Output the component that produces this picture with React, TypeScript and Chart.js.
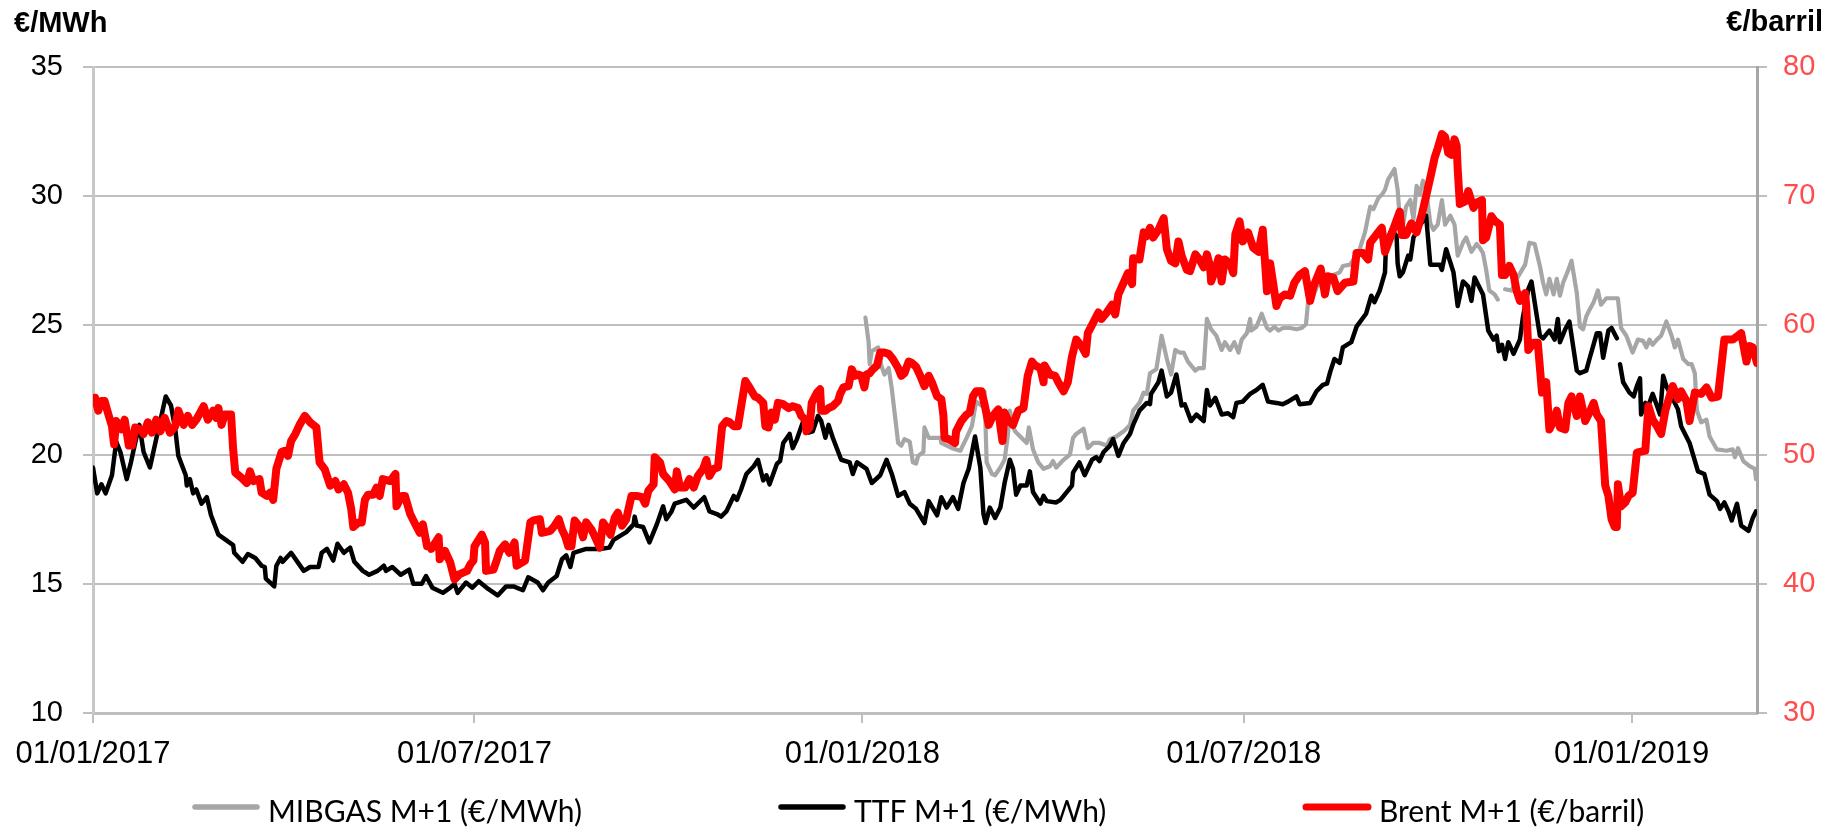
import React, { useEffect, useRef } from "react";
import { Chart, registerables } from "chart.js";

Chart.register(...registerables);

// x values are days since 01/01/2017
const tickDays = [0, 181, 365, 546, 730];
const tickLabels = ["01/01/2017", "01/07/2017", "01/01/2018", "01/07/2018", "01/01/2019"];
const xMaxDay = 789.5;

const seriesNames = ["MIBGAS M+1 (€/MWh)", "TTF M+1 (€/MWh)", "Brent M+1 (€/barril)"];
const leftAxisTitle = "€/MWh";
const rightAxisTitle = "€/barril";

// [day, €/MWh]
const mibgasSeries: [number, number | null][] = [
  [366.5, 25.3], [368, 24.35], [368.5, 23.5], [369.5, 24.0], [372.5, 24.15], [374, 23.45], [375.5, 23.1],
  [377.5, 23.35], [379, 22.55], [380.5, 21.5], [382, 20.45], [383.5, 20.35], [385, 20.6], [387.5, 20.5],
  [389, 19.7], [390.5, 19.65], [391.5, 19.95], [394, 20.1], [394.5, 21.05], [396.5, 20.65], [402, 20.65],
  [402.5, 20.45], [407.5, 20.25], [411.5, 20.15], [414.5, 20.65], [417, 21.1], [419, 22.05], [421.5, 21.9],
  [423, 22.45], [424, 19.7], [426.5, 19.25], [428, 19.2], [430.5, 19.5], [432.5, 19.8], [434, 20.7],
  [435, 21.7], [436.5, 21.1], [437.5, 20.9], [440.5, 20.65], [443, 20.45], [444, 21.05], [446, 20.2],
  [448.5, 19.7], [451, 19.45], [454, 19.55], [455.5, 19.75], [457, 19.5], [460.5, 19.8], [463.5, 20.0],
  [465, 20.65], [466.5, 20.8], [470, 21.0], [472, 20.25], [474.5, 20.45], [477.5, 20.45], [481, 20.35],
  [482.5, 20.6], [485.5, 20.7], [489, 20.9], [492, 21.15], [493.5, 21.7], [496.5, 22.0], [498.5, 22.4],
  [500, 22.35], [501.5, 23.15], [504.5, 23.3], [507, 24.6], [509.5, 23.7], [511.5, 23.1], [513.5, 24.05],
  [515.5, 23.95], [517.5, 23.95], [519.5, 23.6], [523, 23.25], [524.5, 23.35], [527, 23.35], [528.5, 25.25],
  [530.5, 24.85], [533, 24.6], [535.5, 24.05], [537, 24.35], [539.5, 24.05], [541.5, 24.35], [543.5, 23.95],
  [545, 24.45], [547.5, 24.7], [549, 25.25], [549.5, 24.8], [552, 24.95], [554.5, 25.45], [557, 24.9],
  [558.5, 24.8], [560.5, 24.95], [562.5, 24.8], [564.5, 24.9], [568, 24.9], [571, 24.85], [573.5, 24.9],
  [575.5, 25.05], [576.5, 25.9], [579, 26.15], [581.5, 26.65], [584, 26.4], [585.5, 26.8], [588.5, 26.95],
  [591.5, 27.05], [593, 27.3], [596.5, 27.35], [598, 27.55], [601, 27.95], [603.5, 28.6], [606, 29.6],
  [607.5, 29.5], [610, 29.95], [611.5, 30.05], [613, 30.25], [614.5, 30.65], [617.5, 31.05], [619, 30.25],
  [620, 29.15], [621.5, 28.85], [623, 29.6], [625, 29.85], [626.5, 29.1], [628, 30.4], [629.5, 30.05],
  [631, 30.6], [632.5, 30.25], [634.5, 28.95], [636, 28.7], [638, 28.9], [640, 29.85], [641.5, 28.9],
  [644, 29.25], [646, 28.9], [647.5, 27.7], [650, 28.2], [651.5, 28.4], [654, 27.85], [656.5, 28.15],
  [658, 28.0], [659.5, 27.8], [661, 27.15], [662.5, 26.35], [665, 26.2], [666.5, 26.0], [668, null],
  [670, 26.4], [673, 26.35], [675.5, 26.8], [678, 27.15], [679.5, 27.35], [681.5, 28.2], [684, 28.15],
  [686.5, 27.3], [688, 26.65], [689.5, 26.2], [691, 26.8], [693, 26.2], [694.5, 26.8], [696, 26.15],
  [697.5, 26.65], [700, 27.15], [701.5, 27.5], [704, 26.25], [705.5, 24.95], [707, 24.85], [708.5, 25.35],
  [710, 25.6], [712, 25.9], [714, 26.35], [715.5, 25.8], [718, 26.05], [723.5, 26.05], [725, 24.9],
  [727.5, 24.6], [730.5, 23.95], [733, 24.45], [735.5, 24.4], [737, 24.15], [738.5, 24.45], [740, 24.25],
  [742, 24.45], [744, 24.6], [746.5, 25.15], [749, 24.6], [750.5, 24.15], [752, 24.45], [754.5, 23.7],
  [757, 23.5], [758.5, 23.5], [760, 23.15], [761, 21.7], [763, 21.25], [765.5, 21.35], [767, 20.7],
  [770.5, 20.2], [775, 20.15], [778, 20.2], [779, 19.9], [780.5, 20.25], [783, 19.75], [786, 19.55],
  [788.5, 19.45], [789, 19.05],
];

// [day, €/MWh]
const ttfSeries: [number, number | null][] = [
  [0, 19.5], [2, 18.5], [4, 18.85], [6, 18.5], [9, 19.2], [11, 20.5], [13, 20.1], [16, 19.05], [18, 19.7],
  [20, 20.45], [22, 21.15], [24, 20.1], [27, 19.5], [30, 20.6], [33, 21.7], [34.5, 22.25], [37, 21.9],
  [39, 21.0], [40.5, 19.95], [44, 19.2], [44.5, 18.8], [46, 19.05], [47.5, 18.5], [49, 18.65], [51.5, 18.1],
  [54, 18.35], [56, 17.65], [59.5, 16.9], [63, 16.7], [66.5, 16.5], [67, 16.2], [71, 15.85], [73.5, 16.15],
  [77, 16.0], [80, 15.7], [81.5, 15.65], [82, 15.2], [86, 14.9], [87, 15.7], [89, 16.0], [90, 15.85],
  [94, 16.2], [97, 15.85], [100, 15.5], [103, 15.65], [107, 15.65], [108.5, 16.2], [111, 16.35], [114, 15.9],
  [116, 16.55], [119, 16.2], [122, 16.4], [124, 15.85], [128, 15.5], [131, 15.35], [135, 15.5], [138, 15.7],
  [139, 15.5], [142, 15.65], [146, 15.35], [150, 15.55], [152, 15.0], [156, 15.0], [158, 15.3], [161, 14.85],
  [166, 14.65], [169.5, 14.85], [171.5, 15.0], [173, 14.65], [177, 15.05], [180, 14.85], [183, 15.1],
  [187.5, 14.8], [192, 14.55], [196, 14.9], [199.5, 14.9], [204, 14.75], [206.5, 15.25], [211, 15.05],
  [213.5, 14.75], [216, 15.05], [220, 15.3], [222.5, 15.95], [224.5, 16.1], [226.5, 15.65], [228, 16.2],
  [234, 16.35], [240.5, 16.35], [245, 16.4], [247, 16.7], [253, 17.0], [256.5, 17.3], [257, 17.6],
  [258, 17.25], [261, 17.2], [264, 16.6], [267.5, 17.3], [270.5, 18.0], [272, 17.5], [274.5, 17.8],
  [276, 18.1], [281.5, 18.25], [285, 17.95], [290, 18.35], [292.5, 17.8], [296, 17.7], [298, 17.6],
  [300.5, 17.8], [304, 18.4], [305.5, 18.25], [307.5, 18.65], [310, 19.25], [313.5, 19.55], [315.5, 19.8],
  [318, 19.0], [319.5, 19.2], [321, 18.85], [324.5, 19.65], [326, 19.75], [327.5, 20.45], [330.5, 20.8],
  [332, 20.25], [334, 20.6], [337, 21.3], [339.5, 20.85], [341.5, 20.9], [344, 21.5], [345.5, 21.3],
  [347.5, 20.65], [349, 21.15], [351, 20.65], [355, 19.8], [359, 19.7], [360.5, 19.25], [362.5, 19.7],
  [367, 19.45], [369.5, 18.9], [373.5, 19.2], [376.5, 19.8], [379, 19.25], [382, 18.4], [385, 18.55],
  [387.5, 18.1], [390.5, 17.9], [394.5, 17.35], [396.5, 18.2], [400.5, 17.65], [402.5, 18.35], [405, 17.95],
  [408, 18.35], [410.5, 17.9], [413, 18.9], [415.5, 19.45], [418.5, 20.7], [421, 19.5], [422.5, 17.7],
  [423.5, 17.35], [425.5, 17.95], [428, 17.55], [430.5, 17.95], [432.5, 18.9], [435, 19.8], [436.5, 19.45],
  [438, 18.45], [440, 18.8], [443, 18.8], [444.5, 19.35], [446, 18.55], [449.5, 18.1], [451, 18.4],
  [452.5, 18.2], [457, 18.15], [459, 18.25], [462, 18.55], [464.5, 18.8], [465, 19.3], [468, 19.7],
  [470.5, 19.2], [474, 19.8], [476, 19.9], [477.5, 19.75], [479.5, 20.1], [482.5, 20.35], [484, 20.6],
  [486.5, 19.95], [489, 20.45], [492, 20.8], [493.5, 21.15], [496.5, 21.7], [500, 22.0], [501.5, 21.95],
  [502, 22.35], [505.5, 22.8], [507, 23.25], [509.5, 22.25], [511.5, 22.4], [514, 23.1], [516.5, 21.9],
  [518, 21.95], [521, 21.3], [523.5, 21.55], [527, 21.3], [528.5, 22.5], [530, 21.9], [532.5, 22.2],
  [535.5, 21.55], [538.5, 21.6], [541, 21.45], [542.5, 22.0], [545.5, 22.05], [549, 22.35], [552, 22.5],
  [555, 22.7], [557.5, 22.05], [561.5, 22.0], [564.5, 21.95], [567, 22.05], [571, 22.25], [572.5, 21.95],
  [577.5, 22.0], [580.5, 22.45], [583.5, 22.7], [585.5, 22.75], [587, 23.2], [589, 23.7], [591.5, 23.55],
  [593, 24.15], [597, 24.35], [599.5, 24.95], [604, 25.45], [606.5, 26.15], [608, 25.9], [610.5, 26.35],
  [613, 27.05], [613.5, 28.2], [616, 28.7], [618.5, 28.45], [619, 27.4], [620, 26.9], [621.5, 27.05],
  [624, 27.7], [625, 27.55], [626.5, 28.4], [629.5, 28.85], [632.5, 29.25], [634.5, 27.35], [639, 27.35],
  [640, 27.15], [642, 27.95], [645.5, 27.05], [647.5, 25.75], [650, 26.7], [652.5, 26.5], [654, 25.95],
  [655.5, 26.85], [659.5, 26.2], [662, 24.8], [664.5, 24.45], [666, 24.6], [667, 24.0], [668.5, 24.25],
  [670, 23.7], [671.5, 24.35], [674, 23.9], [677, 24.45], [678.5, 25.35], [681, 26.4], [682.5, 26.7],
  [684, 25.9], [686.5, 24.6], [688, 24.5], [691, 24.8], [693.5, 24.45], [695, 25.25], [696, 24.35],
  [698.5, 24.85], [700.5, 25.15], [704, 23.25], [705.5, 23.15], [708.5, 23.25], [710, 23.7], [713.5, 24.7],
  [715, 24.7], [716.5, 23.75], [719, 24.8], [720.5, 24.9], [723, 24.5], [723.5, null], [724.5, 23.5],
  [726, 22.8], [729, 22.4], [731, 22.25], [732.5, 22.65], [734, 22.95], [734.5, 21.55], [736.5, 22.0],
  [738, 21.9], [740, 22.35], [742, 21.9], [743.5, 21.55], [745, 23.05], [746.5, 22.65], [749, 22.25],
  [752, 21.75], [753.5, 21.1], [757.5, 20.45], [761.5, 19.35], [764.5, 19.25], [767, 18.45], [770.5, 18.2],
  [772, 17.9], [774, 18.15], [776, 17.8], [777.5, 17.45], [780, 18.1], [782, 17.25], [785.5, 17.05],
  [787.5, 17.55], [789, 17.8],
];

// [day, €/barril]
const brentSeries: [number, number | null][] = [
  [1, 54.4], [2.5, 53.4], [4, 54.15], [5.5, 54.15], [7.5, 53.0], [9, 52.2], [10, 50.8], [11, 52.6],
  [13.5, 51.95], [15, 52.7], [17, 50.7], [18.5, 50.7], [20, 52.1], [22.5, 51.95], [24, 51.6], [26, 52.5],
  [28, 51.7], [30, 52.7], [32, 51.8], [34, 52.85], [36.5, 51.7], [39, 52.2], [40.5, 53.4], [43, 52.3],
  [45, 53.0], [47, 52.3], [49, 52.7], [52.5, 53.75], [54.5, 52.7], [57, 53.4], [58.5, 52.85], [59.5, 53.6],
  [61, 52.3], [62.5, 53.1], [65.5, 53.1], [66.5, 50.4], [67.5, 48.6], [70.5, 48.2], [73, 47.8], [74.5, 48.7],
  [76, 47.95], [79, 48.1], [80, 47.05], [82.5, 46.8], [84, 47.05], [85.5, 46.5], [87, 48.9], [89.5, 50.2],
  [91, 50.3], [92.5, 49.9], [94, 51.05], [96, 51.6], [98, 52.3], [100.5, 53.0], [103, 52.5], [106, 52.1],
  [107.5, 49.4], [110, 48.85], [112.5, 47.6], [115, 47.95], [116.5, 47.3], [119, 47.7], [121, 47.05],
  [122.5, 45.8], [123.5, 44.4], [126, 44.75], [127.5, 44.75], [129, 46.5], [130.5, 46.9], [133, 46.9],
  [134.5, 47.45], [136, 46.8], [137.5, 48.1], [141, 47.95], [143.5, 48.5], [144, 46.0], [146.5, 46.8],
  [148, 46.8], [150.5, 45.4], [152.5, 44.75], [155, 43.95], [156.5, 44.6], [158.5, 42.9], [160, 42.9],
  [160.5, 42.7], [164, 43.6], [164.5, 41.9], [167, 42.55], [169.5, 41.65], [171.5, 40.35], [174, 40.75],
  [177.5, 41.0], [179, 41.5], [180.5, 41.8], [181, 42.9], [184.5, 43.8], [186, 43.2], [186.5, 41.0],
  [190, 41.1], [191.5, 41.8], [193, 42.55], [195.5, 43.05], [197.5, 42.4], [200, 43.2], [201, 41.4],
  [205, 41.8], [207.5, 44.75], [209, 44.9], [212, 45.0], [213, 43.95], [217, 44.1], [219, 44.5], [221, 45.0],
  [222.5, 44.2], [224, 43.7], [225.5, 42.9], [227, 42.9], [228.5, 44.9], [231, 44.4], [232.5, 43.6],
  [234, 44.75], [236.5, 44.2], [238, 43.7], [240.5, 42.8], [242, 44.75], [243.5, 44.4], [245.5, 43.8],
  [247.5, 45.1], [249, 45.5], [251, 44.5], [253, 45.0], [255.5, 46.8], [258, 46.8], [260.5, 46.7],
  [262, 46.2], [263.5, 47.2], [266, 47.7], [266.5, 49.8], [269, 49.4], [270.5, 48.5], [273.5, 47.95],
  [276, 47.3], [277, 48.7], [278.5, 47.45], [281, 47.45], [283, 48.1], [285, 47.45], [287, 48.35],
  [289.5, 48.9], [291, 49.6], [292.5, 48.35], [294.5, 48.9], [296.5, 49.0], [298.5, 52.2], [300.5, 52.6],
  [302, 52.5], [304, 52.2], [306, 52.2], [309.5, 55.7], [311.5, 55.2], [314, 54.5], [315.5, 54.4],
  [318, 54.0], [319, 52.2], [320.5, 52.1], [322, 53.25], [323.5, 52.7], [325, 54.0], [327.5, 53.9],
  [330, 53.6], [332, 53.75], [334.5, 53.6], [336, 53.0], [338, 52.7], [338.5, 51.8], [340, 52.1],
  [341, 54.0], [343.5, 54.8], [345, 55.05], [345.5, 53.4], [347.5, 53.4], [349, 53.6], [351, 53.75],
  [353.5, 54.15], [354.5, 54.7], [356, 55.2], [358.5, 55.3], [360, 56.6], [361.5, 56.1], [363, 56.2],
  [364.5, 56.1], [366, 55.2], [367, 56.2], [368.5, 56.3], [370, 56.6], [372, 56.9], [373.5, 57.9],
  [375.5, 57.9], [377.5, 57.8], [379.5, 57.4], [382, 56.7], [383.5, 56.1], [385, 56.3], [387, 57.2],
  [388.5, 57.1], [390.5, 56.8], [392.5, 56.1], [394.5, 55.3], [396.5, 56.1], [398, 55.6], [400.5, 54.5],
  [402.5, 54.3], [403.5, 53.0], [404, 51.3], [406, 51.2], [409, 50.9], [409.5, 51.8], [412, 52.6],
  [414.5, 53.1], [416, 53.25], [417.5, 54.5], [419, 54.9], [421.5, 54.9], [423, 53.9], [425, 52.3],
  [427, 53.0], [429.5, 53.5], [430.5, 52.2], [431.5, 51.05], [432.5, 53.25], [434, 52.7], [436.5, 52.3],
  [439, 53.4], [441.5, 53.6], [443.5, 56.1], [445.5, 57.2], [447, 56.9], [449.5, 56.7], [451, 55.6],
  [451.5, 56.9], [454, 56.2], [456.5, 56.1], [458, 55.6], [460.5, 54.9], [462.5, 55.6], [464.5, 57.6],
  [466.5, 58.9], [469, 58.4], [471, 57.8], [472, 59.4], [474.5, 60.2], [477, 61.0], [478.5, 60.5],
  [481, 61.0], [483.5, 61.6], [485, 60.85], [486.5, 62.4], [489, 63.3], [491, 64.05], [493, 63.2],
  [493.5, 65.2], [496.5, 65.1], [498.5, 67.2], [500, 66.9], [501.5, 67.55], [503, 66.8], [505.5, 67.4],
  [508, 68.3], [509.5, 65.9], [511.5, 65.0], [513.5, 64.8], [515, 66.5], [516.5, 65.4], [519, 64.3],
  [520.5, 64.2], [523, 65.5], [525, 65.1], [527, 64.5], [528.5, 65.5], [530, 64.6], [530.5, 63.4],
  [532.5, 64.3], [534, 65.2], [535.5, 63.4], [537, 65.1], [539.5, 64.8], [541, 64.05], [542, 67.05],
  [544, 68.05], [545.5, 66.5], [548, 67.2], [550.5, 66.0], [553, 65.7], [555, 67.4], [556, 65.1],
  [557, 62.65], [558.5, 64.8], [560, 63.2], [561.5, 61.5], [563, 62.1], [565.5, 62.4], [568, 62.3],
  [570, 63.3], [572.5, 63.9], [575, 64.2], [577.5, 61.9], [579, 63.0], [580.5, 63.6], [582.5, 64.4],
  [584.5, 62.4], [586, 63.8], [588.5, 63.7], [590.5, 62.65], [594, 63.3], [598, 63.4], [599.5, 65.6],
  [602.5, 65.6], [605, 65.1], [606, 66.4], [609, 67.05], [611.5, 67.55], [613, 65.7], [615.5, 66.8],
  [617.5, 67.7], [620, 68.8], [621, 67.0], [623, 67.0], [625.5, 67.9], [628, 67.2], [630.5, 68.6],
  [632.5, 70.0], [635, 71.8], [636.5, 72.95], [638, 73.7], [640, 74.8], [641.5, 74.6], [643, 73.35],
  [644.5, 73.2], [646, 74.4], [647, 73.9], [647.5, 72.1], [648.5, 69.4], [651, 69.6], [652.5, 70.4],
  [655, 69.1], [656.5, 69.5], [659, 69.7], [659.5, 66.6], [661, 66.8], [663.5, 68.45], [665, 68.1],
  [667.5, 67.8], [668.5, 63.9], [670, 63.9], [672, 64.6], [674, 63.9], [675.5, 62.65], [677, 61.9],
  [679.5, 62.5], [680, 61.5], [681, 58.1], [683.5, 58.65], [685.5, 58.65], [687.5, 54.8], [689.5, 55.6],
  [691, 51.95], [693, 52.6], [694.5, 53.4], [696, 52.1], [698.5, 51.95], [700, 54.0], [701.5, 54.5],
  [704, 53.0], [705.5, 54.5], [708, 52.6], [710, 53.25], [712, 54.0], [713.5, 53.1], [715.5, 52.6],
  [717.5, 47.6], [719, 46.8], [720.5, 45.0], [722, 44.4], [723, 44.4], [723.5, 47.7], [725, 46.0],
  [727, 46.3], [728.5, 46.8], [730.5, 47.05], [732.5, 50.15], [736.5, 50.3], [738, 53.75], [740, 52.7],
  [742, 52.2], [744, 51.6], [746, 53.4], [748, 54.5], [749.5, 55.3], [752, 54.3], [753.5, 54.9],
  [756, 54.15], [757.5, 52.6], [760, 54.8], [763, 54.7], [765.5, 55.2], [768, 54.4], [771, 54.5],
  [774, 58.9], [778, 58.9], [782, 59.4], [784.5, 57.2], [786, 58.4], [787.5, 58.3], [789.5, 57.1],
];

const seriesColors = ["#A6A6A6", "#000000", "#FF0000"];
const FONT = "'Liberation Sans', Arial, sans-serif";

const toPoints = (s: [number, number | null][]) => s.map(([x, y]) => ({ x, y }));

const decorPlugin = {
  id: "decor",
  afterDraw(chart: any) {
    const ctx: CanvasRenderingContext2D = chart.ctx;
    ctx.save();
    // axis unit titles
    ctx.fillStyle = "#000";
    ctx.font = `bold 29px ${FONT}`;
    ctx.textBaseline = "alphabetic";
    ctx.textAlign = "left";
    ctx.fillText(leftAxisTitle, 14, 32);
    ctx.textAlign = "right";
    ctx.fillText(rightAxisTitle, 1823, 31);

    // legend
    const starts = [192, 778, 1303];
    const lineLen = 68;
    const lineWidths = [5.5, 5.5, 7];
    ctx.font = `30px Lato, ${FONT}`;
    ctx.textAlign = "left";
    seriesNames.forEach((name, i) => {
      const x0 = starts[i];
      ctx.beginPath();
      ctx.strokeStyle = seriesColors[i];
      ctx.lineWidth = lineWidths[i];
      ctx.lineCap = "round";
      ctx.moveTo(x0 + 3, 807);
      ctx.lineTo(x0 + lineLen - 3, 807);
      ctx.stroke();
      ctx.fillStyle = "#000";
      ctx.fillText(name, x0 + lineLen + 8, 821.5);
    });
    ctx.restore();
  },
};

export default function App() {
  const canvasRef = useRef<HTMLCanvasElement | null>(null);

  useEffect(() => {
    document.body.style.margin = "0";
    const canvas = canvasRef.current;
    if (!canvas) return;
    const tickFont = { family: FONT, size: 29 };
    const chart = new Chart(canvas, {
      type: "line",
      data: {
        datasets: [
          {
            label: seriesNames[0],
            data: toPoints(mibgasSeries) as any,
            borderColor: seriesColors[0],
            backgroundColor: seriesColors[0],
            borderWidth: 4.2,
            yAxisID: "y",
            order: 2,
          },
          {
            label: seriesNames[1],
            data: toPoints(ttfSeries) as any,
            borderColor: seriesColors[1],
            backgroundColor: seriesColors[1],
            borderWidth: 4.5,
            yAxisID: "y",
            order: 1,
          },
          {
            label: seriesNames[2],
            data: toPoints(brentSeries) as any,
            borderColor: seriesColors[2],
            backgroundColor: seriesColors[2],
            borderWidth: 8,
            yAxisID: "y1",
            order: 0,
          },
        ],
      },
      options: {
        animation: false,
        responsive: false,
        spanGaps: false,
        events: [],
        elements: {
          point: { radius: 0 },
          line: { tension: 0, borderJoinStyle: "round", borderCapStyle: "round", fill: false },
        },
        layout: { padding: { top: 67, left: 0, right: 0, bottom: 0 } },
        plugins: {
          legend: { display: false },
          tooltip: { enabled: false },
          title: { display: false },
        },
        scales: {
          x: {
            type: "linear",
            min: 0,
            max: xMaxDay,
            afterBuildTicks: (scale: any) => {
              scale.ticks = tickDays.map((v) => ({ value: v }));
            },
            afterFit: (scale: any) => {
              scale.height = 116;
            },
            ticks: {
              callback: (value: any) => tickLabels[tickDays.indexOf(Number(value))] ?? "",
              autoSkip: false,
              maxRotation: 0,
              minRotation: 0,
              padding: 13,
              color: "#000",
              font: { family: FONT, size: 31 },
            },
            grid: { drawOnChartArea: false, drawTicks: true, tickLength: 10, color: "#BFBFBF", lineWidth: 2 },
            border: { display: true, color: "#BFBFBF", width: 3 },
          },
          y: {
            type: "linear",
            position: "left",
            min: 10,
            max: 35,
            afterFit: (scale: any) => {
              scale.width = 93;
            },
            ticks: { stepSize: 5, padding: 20, color: "#000", font: tickFont },
            grid: { color: "#BFBFBF", lineWidth: 2, tickLength: 10, drawTicks: true },
            border: { display: true, color: "#C8C8C8", width: 3 },
          },
          y1: {
            type: "linear",
            position: "right",
            min: 30,
            max: 80,
            afterFit: (scale: any) => {
              scale.width = 84;
            },
            ticks: { stepSize: 10, padding: 16, color: "#FF4D4D", font: tickFont },
            grid: { drawOnChartArea: false, color: "#BFBFBF", lineWidth: 2, tickLength: 10, drawTicks: true },
            border: { display: true, color: "#A6A6A6", width: 3 },
          },
        },
      },
      plugins: [decorPlugin],
    });
    return () => chart.destroy();
  }, []);

  return (
    <div style={{ width: 1841, height: 829, position: "relative", background: "#fff" }}>
      <canvas ref={canvasRef} width={1841} height={829} style={{ display: "block" }} />
    </div>
  );
}
